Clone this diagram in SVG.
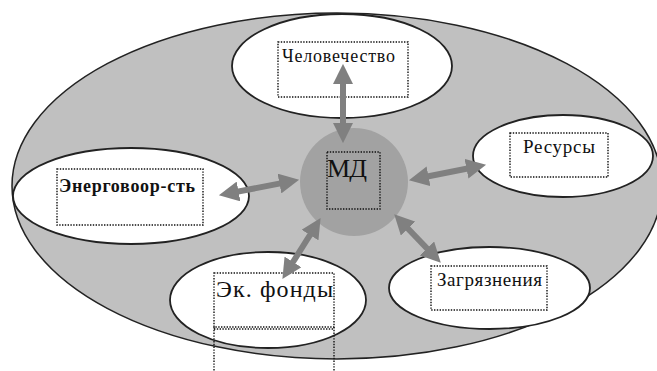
<svg xmlns="http://www.w3.org/2000/svg" width="657" height="371" viewBox="0 0 657 371">
<defs>
<style>
.bg{fill:#c0c0c0;stroke:#222;stroke-width:1.5}
.node{fill:#fff;stroke:#222;stroke-width:1.8}
.core{fill:#a2a2a2;stroke:none}
.box{fill:none;stroke:#111;stroke-width:1.4;stroke-dasharray:1.4 1.4}
.t{font-family:"Liberation Serif","DejaVu Serif","Times New Roman",serif;fill:#111}
.conn{stroke:#808080;stroke-width:6;fill:none;marker-start:url(#ah);marker-end:url(#ah)}
</style>
<marker id="ah" markerUnits="userSpaceOnUse" markerWidth="20" markerHeight="20" refX="8" refY="9" orient="auto-start-reverse" viewBox="0 0 18 18">
<path d="M0,0 L18,9 L0,18 z" fill="#808080"/>
</marker>
</defs>
<rect width="657" height="371" fill="#fff"/>
<g id="field">
<ellipse class="bg" cx="337" cy="186" rx="325" ry="173"/>
</g>
<g id="md">
<ellipse class="core" cx="354" cy="182" rx="54" ry="54"/>
<rect class="box" x="327" y="152" width="53" height="57"/>
<text class="t" x="327" y="177" font-size="26" textLength="40">МД</text>
</g>
<g id="chelovechestvo">
<ellipse class="node" cx="342" cy="66" rx="110" ry="52"/>
<rect class="box" x="278" y="42" width="130" height="55"/>
<text class="t" x="282" y="62" font-size="18" textLength="113">Человечество</text>
</g>
<g id="energo">
<ellipse class="node" cx="131" cy="196" rx="118" ry="48"/>
<rect class="box" x="57" y="169" width="146" height="56"/>
<text class="t" x="59" y="192" font-size="18" font-weight="bold" textLength="136">Энерговоор-сть</text>
</g>
<g id="resursy">
<ellipse class="node" cx="563" cy="156" rx="90" ry="41"/>
<rect class="box" x="510" y="133" width="98" height="44"/>
<text class="t" x="523" y="153" font-size="19" textLength="72">Ресурсы</text>
</g>
<g id="zagryazneniya">
<ellipse class="node" cx="489.5" cy="288" rx="100.5" ry="41"/>
<rect class="box" x="431" y="266" width="116" height="44"/>
<text class="t" x="437" y="286" font-size="19" textLength="105">Загрязнения</text>
</g>
<g id="ekfondy">
<ellipse class="node" cx="268" cy="300" rx="98" ry="48"/>
<rect class="box" x="214" y="273" width="120" height="54"/>
<path class="box" d="M214,329 H334 M214,327 V371 M334,327 V371"/>
<text class="t" x="216" y="297" font-size="24" textLength="117">Эк. фонды</text>
</g>
<g id="connectors">
<line class="conn" x1="343" y1="75" x2="343" y2="132"/>
<line class="conn" x1="229.8" y1="193.1" x2="288.2" y2="181.9"/>
<line class="conn" x1="419.8" y1="178" x2="475.2" y2="167"/>
<line class="conn" x1="314.7" y1="227.5" x2="288.3" y2="269.5"/>
<line class="conn" x1="401.9" y1="222.2" x2="433.1" y2="254.8"/>
</g>
</svg>
